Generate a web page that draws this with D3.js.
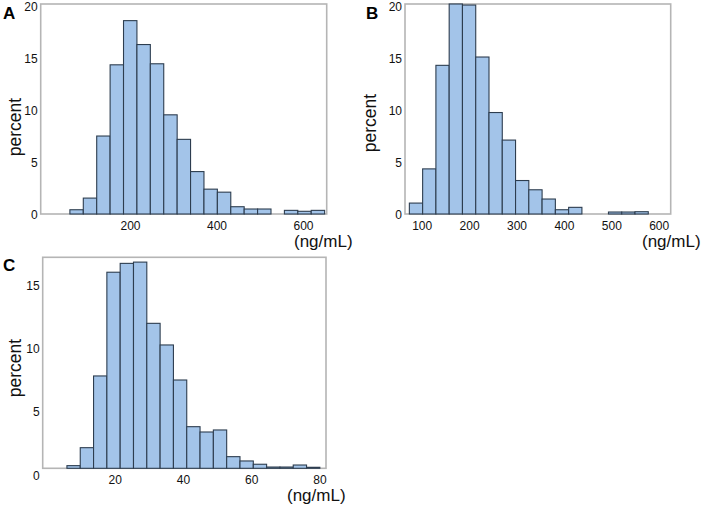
<!DOCTYPE html>
<html>
<head>
<meta charset="utf-8">
<script src="https://cdn.jsdelivr.net/npm/d3@7/dist/d3.min.js"></script>
<style>
  html, body { margin: 0; padding: 0; background: #fff; }
  svg { display: block; font-family: "Liberation Sans", Arial, sans-serif; }
</style>
</head>
<body>
<svg id="chart" width="704" height="507"></svg>
<script>
// ---- Data ----
// Panel A: bin edges (ng/mL) and percent per bin
const aEdges  = [61, 92, 123, 154, 185, 216, 247, 278, 309, 340, 371, 402, 433, 464, 495, 526, 557, 588, 619, 650];
const aValues = [0.41, 1.53, 7.5, 14.35, 18.6, 16.3, 14.45, 9.54, 7.18, 4.08, 2.39, 2.1, 0.7, 0.48, 0.48, 0, 0.35, 0.26, 0.35];
const aXTicks = [200, 400, 600];

// Panel B
const bEdges  = [74, 102, 130, 158, 186, 214, 242, 270, 298, 326, 354, 382, 410, 438, 466, 494, 522, 550, 578];
const bValues = [1.05, 4.34, 14.3, 20.2, 20.1, 15.1, 9.76, 7.11, 3.22, 2.33, 1.44, 0.41, 0.64, 0, 0, 0.19, 0.19, 0.22];
const bXTicks = [100, 200, 300, 400, 500, 600];

// Panel C
const cEdges  = [6, 9.9, 13.8, 17.7, 21.6, 25.5, 29.4, 33.3, 37.2, 41.1, 45, 48.9, 52.8, 56.7, 60.6, 64.5, 68.4, 72.3, 76.2, 80.1];
const cValues = [0.21, 1.63, 7.3, 15.5, 16.2, 16.3, 11.46, 9.75, 6.98, 3.29, 2.87, 3.03, 0.92, 0.58, 0.32, 0.1, 0.1, 0.26, 0.08];
const cXTicks = [20, 40, 60, 80];

const abYTicks = [0, 5, 10, 15, 20];
const cYTicks  = [0, 5, 10, 15];

const panelLetters = ["A", "B", "C"];
const yLabel = "percent";
const xUnit  = "(ng/mL)";

// ---- Layout ----
const svg = d3.select("#chart");
const FILL = "#a3c4e9", STROKE = "#2d3d4f", FRAME = "#b5b5b5", TEXT = "#111";

const panels = [
  { letter: panelLetters[0], edges: aEdges, values: aValues, xTicks: aXTicks, yTicks: abYTicks,
    xDom: [-6.5, 654.8], yDom: [0, 20.2], x0: 40.7, x1: 326.7, y0: 4, y1: 214,
    yLabDy: 1, letterPos: [3, 19], percentPos: [15, 127], unitPos: [294, 247], xLabY: 230 },
  { letter: panelLetters[1], edges: bEdges, values: bValues, xTicks: bXTicks, yTicks: abYTicks,
    xDom: [64.8, 625.3], yDom: [0, 20.2], x0: 405, x1: 670.7, y0: 4, y1: 214,
    yLabDy: 1, letterPos: [366, 19], percentPos: [370, 123], unitPos: [642, 247], xLabY: 230 },
  { letter: panelLetters[2], edges: cEdges, values: cValues, xTicks: cXTicks, yTicks: cYTicks,
    xDom: [-1.1, 81.9], yDom: [0, 16.68], x0: 42.7, x1: 326, y0: 257.3, y1: 468.3,
    yLabDy: 7, letterPos: [3, 271], percentPos: [15, 368], unitPos: [287, 501], xLabY: 484 }
];

panels.forEach(p => {
  const x = d3.scaleLinear().domain(p.xDom).range([p.x0, p.x1]);
  const y = d3.scaleLinear().domain(p.yDom).range([p.y1, p.y0]);
  const g = svg.append("g");

  // frame
  g.append("rect")
    .attr("x", p.x0).attr("y", p.y0)
    .attr("width", p.x1 - p.x0).attr("height", p.y1 - p.y0)
    .attr("fill", "none").attr("stroke", FRAME).attr("stroke-width", 1.6);

  // bars
  const bins = p.values.map((v, i) => ({ lo: p.edges[i], hi: p.edges[i + 1], v }));
  g.append("g").selectAll("rect")
    .data(bins.filter(b => b.v > 0))
    .join("rect")
    .attr("x", b => x(b.lo))
    .attr("width", b => x(b.hi) - x(b.lo))
    .attr("y", b => y(b.v))
    .attr("height", b => y(0) - y(b.v))
    .attr("fill", FILL)
    .attr("stroke", STROKE)
    .attr("stroke-width", 1.1);

  // y axis (labels only)
  const ya = g.append("g")
    .attr("transform", `translate(${p.x0},0)`)
    .call(d3.axisLeft(y).tickValues(p.yTicks).tickSize(0).tickPadding(3).tickFormat(d3.format("d")));
  ya.select(".domain").remove();
  ya.selectAll("text").attr("font-size", 12).attr("fill", TEXT)
    .attr("font-family", "Liberation Sans, Arial, sans-serif")
    .attr("dy", (0.32 * 12 + p.yLabDy) + "px");

  // x axis (labels only)
  const xa = g.append("g")
    .attr("transform", `translate(0,${p.y1})`)
    .call(d3.axisBottom(x).tickValues(p.xTicks).tickSize(0).tickPadding(0).tickFormat(d3.format("d")));
  xa.select(".domain").remove();
  xa.selectAll("text").attr("font-size", 12).attr("fill", TEXT)
    .attr("font-family", "Liberation Sans, Arial, sans-serif")
    .attr("y", p.xLabY - p.y1).attr("dy", 0);

  // letters and titles
  g.append("text").attr("x", p.letterPos[0]).attr("y", p.letterPos[1])
    .attr("font-size", 17).attr("font-weight", "bold").attr("fill", "#000").text(p.letter);
  g.append("text")
    .attr("transform", `translate(${p.percentPos[0] + 6},${p.percentPos[1]}) rotate(-90)`)
    .attr("text-anchor", "middle").attr("font-size", 17.5).attr("fill", TEXT).text(yLabel);
  g.append("text").attr("x", p.unitPos[0]).attr("y", p.unitPos[1])
    .attr("font-size", 17).attr("fill", TEXT).text(xUnit);
});
</script>
</body>
</html>
